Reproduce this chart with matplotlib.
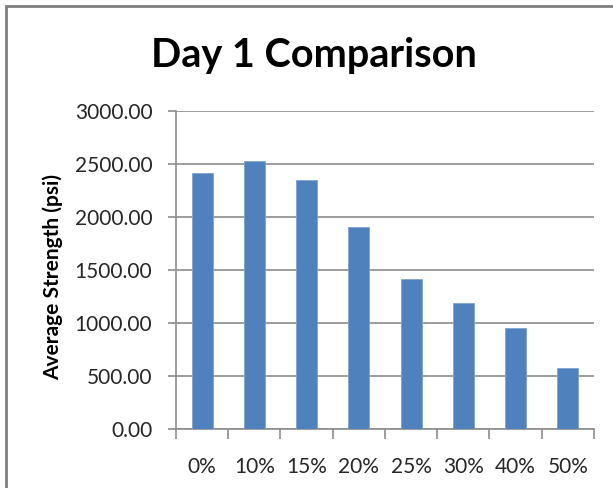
import matplotlib
matplotlib.use("Agg")
import matplotlib.pyplot as plt
from matplotlib.patches import Rectangle
from matplotlib.ticker import MultipleLocator, FuncFormatter

categories = ["0%", "10%", "15%", "20%", "25%", "30%", "40%", "50%"]
strength = [2415, 2528, 2349, 1906, 1418, 1192, 953, 581]

plt.rcParams["font.family"] = ["Lato", "DejaVu Sans"]

fig = plt.figure(figsize=(6.13, 4.88), dpi=100)
ax = fig.add_axes([0.287, 0.1203, 0.682, 0.6522])

x = range(len(categories))
ax.bar(x, strength, width=0.4, color="#4F81BD", edgecolor="#7FA3D1",
       linewidth=0.6, zorder=3)

ax.set_xlim(-0.5, len(categories) - 0.5)
ax.set_ylim(0, 3000)
ax.yaxis.set_major_locator(MultipleLocator(500))
ax.yaxis.set_major_formatter(FuncFormatter(lambda v, _: f"{v:.2f}"))
ax.grid(axis="y", color="#8C8C8C", linewidth=1.2, zorder=0)

# category ticks sit between the bars
ax.set_xticks([i - 0.5 for i in range(len(categories) + 1)])
ax.set_xticklabels([])
ax.set_xticks(list(x), minor=True)
ax.set_xticklabels(categories, minor=True)
ax.tick_params(axis="x", which="minor", length=0, pad=20, labelsize=15,
               labelcolor="#262626")
ax.tick_params(axis="x", which="major", length=7, color="#8C8C8C", width=1.2)
ax.tick_params(axis="y", length=6, color="#8C8C8C", width=1.2, pad=11,
               labelsize=15, labelcolor="#262626")

for side in ("top", "right"):
    ax.spines[side].set_visible(False)
for side in ("left", "bottom"):
    ax.spines[side].set_color("#8C8C8C")
    ax.spines[side].set_linewidth(1.2)

ax.set_ylabel("Average Strength (psi)", fontsize=15, fontweight="bold")
ax.yaxis.set_label_coords(-0.27, 0.48)
fig.text(0.512, 0.887, "Day 1 Comparison", ha="center", va="center",
         fontsize=28.5, fontweight="bold")

# outer chart frame, clipped on the right and bottom
fig.patches.append(Rectangle((6 / 613, -0.05), 1.1, 1.05 - 6 / 488,
                             transform=fig.transFigure, fill=False,
                             edgecolor="#808080", linewidth=2))

fig.savefig("out.png", dpi=100)
